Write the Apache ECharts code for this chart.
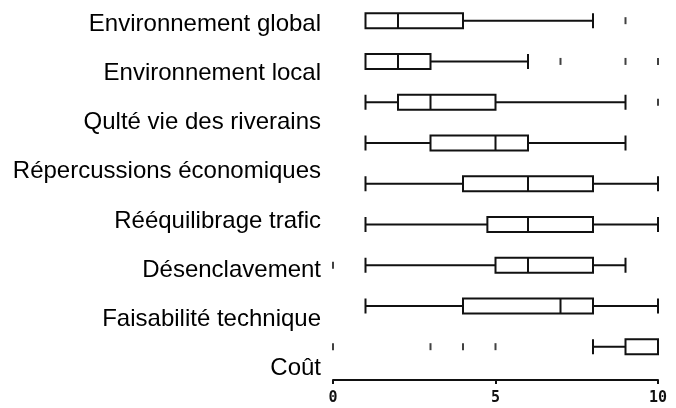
<!DOCTYPE html>
<html>
<head>
<meta charset="utf-8">
<script src="https://cdn.jsdelivr.net/npm/echarts@6/dist/echarts.min.js"></script>
<style>html,body{margin:0;padding:0;background:#fff}#c{width:676px;height:408px}</style>
</head>
<body>
<div id="c"></div>
<script>
const categories = ['Environnement global','Environnement local','Qulté vie des riverains','Répercussions économiques','Rééquilibrage trafic','Désenclavement','Faisabilité technique','Coût'];
const boxRows = ['r1','r2','r3','r4','r5','r6','r7','r8','r9'];
const boxMin = [1, 1, 1, 1, 1, 1, 1, 1, 8];
const boxQ1  = [1, 1, 2, 3, 4, 4.75, 5, 4, 9];
const boxMed = [2, 2, 3, 5, 6, 6, 6, 7, 10];
const boxQ3  = [4, 3, 5, 6, 8, 8, 8, 8, 10];
const boxMax = [8, 6, 9, 9, 10, 10, 9, 10, 10];
const outlierRow = [0, 1, 1, 1, 2, 6, 8, 8, 8, 8];
const outlierVal = [9, 7, 9, 10, 10, 0, 0, 3, 4, 5];
const xTicks = [0, 5, 10];

const boxData = boxRows.map((r, i) => [boxMin[i], boxQ1[i], boxMed[i], boxQ3[i], boxMax[i]]);
const outData = outlierRow.map((r, i) => [outlierVal[i], boxRows[r]]);

const chart = echarts.init(document.getElementById('c'), null, {renderer: 'canvas'});
chart.setOption({
  animation: false,
  backgroundColor: '#fff',
  grid: [
    {left: 333, right: 18, top: 0.3, height: 366.75},
    {left: 333, right: 18, top: -4.1, height: 396.8}
  ],
  xAxis: [
    {gridIndex: 0, type: 'value', min: xTicks[0], max: xTicks[xTicks.length - 1], interval: 5, offset: 13,
     splitLine: {show: false},
     axisLine: {show: true, lineStyle: {color: '#111', width: 2}},
     axisTick: {show: true, length: 4, lineStyle: {color: '#111', width: 2}},
     axisLabel: {color: '#111', fontFamily: 'DejaVu Sans Mono', fontWeight: 'bold', fontSize: 15, margin: 11}},
    {gridIndex: 1, type: 'value', min: 0, max: 10, show: false}
  ],
  yAxis: [
    {gridIndex: 0, type: 'category', data: boxRows, inverse: true, show: false},
    {gridIndex: 1, type: 'category', data: categories, inverse: true,
     axisLine: {show: false}, axisTick: {show: false}, splitLine: {show: false},
     axisLabel: {color: '#000', fontFamily: 'Liberation Sans', fontSize: 24, margin: 12}}
  ],
  series: [
    {type: 'boxplot', xAxisIndex: 0, yAxisIndex: 0, data: boxData, boxWidth: [15, 15],
     itemStyle: {color: '#fff', borderColor: '#111', borderWidth: 2},
     emphasis: {disabled: true}},
    {type: 'scatter', xAxisIndex: 0, yAxisIndex: 0, data: outData, symbol: 'rect', symbolSize: [2, 7],
     clip: false, itemStyle: {color: '#111'}, emphasis: {disabled: true}}
  ]
});
</script>
</body>
</html>
